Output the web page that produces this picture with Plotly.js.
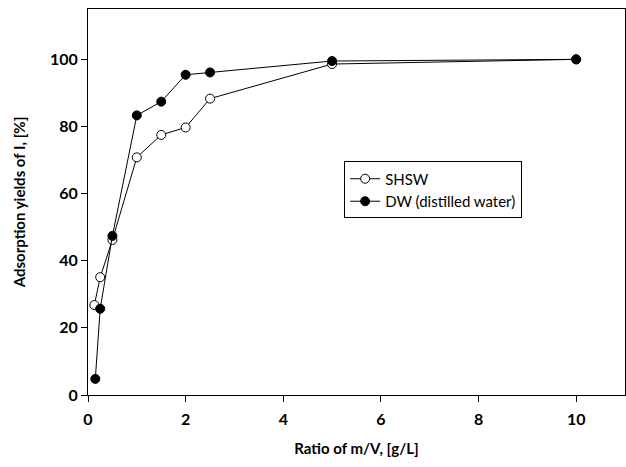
<!DOCTYPE html>
<html>
<head>
<meta charset="utf-8">
<script src="https://cdn.plot.ly/plotly-3.0.1.min.js"></script>
<style>html,body{margin:0;padding:0;background:#fff;}#chart{width:626px;height:467px;}</style>
</head>
<body>
<div id="chart"></div>
<script>
// Data
const shswX = [0.13, 0.25, 0.5, 1.0, 1.5, 2.0, 2.5, 5.0, 10.0];
const shswY = [26.8, 35.1, 46.2, 70.8, 77.5, 79.7, 88.3, 98.6, 100.0];
const dwX = [0.15, 0.25, 0.5, 1.0, 1.5, 2.0, 2.5, 5.0, 10.0];
const dwY = [4.8, 25.7, 47.4, 83.3, 87.4, 95.4, 96.1, 99.5, 100.0];
const xTicks = [0, 2, 4, 6, 8, 10];
const yTicks = [0, 20, 40, 60, 80, 100];
const seriesNames = ['SHSW', 'DW (distilled water)'];

const FONT = 'Lato, "Open Sans", "DejaVu Sans", sans-serif';

const traces = [
  {
    x: shswX, y: shswY, name: seriesNames[0], type: 'scatter', mode: 'lines+markers',
    line: {color: '#000', width: 1},
    marker: {symbol: 'circle', size: 9, color: '#fff', line: {color: '#000', width: 1}}
  },
  {
    x: dwX, y: dwY, name: seriesNames[1], type: 'scatter', mode: 'lines+markers',
    line: {color: '#000', width: 1},
    marker: {symbol: 'circle', size: 9, color: '#000', line: {color: '#000', width: 1}}
  }
];

const layout = {
  width: 626, height: 467,
  margin: {l: 88, r: 1, t: 9, b: 72},
  paper_bgcolor: '#fff', plot_bgcolor: '#fff',
  font: {family: FONT, color: '#000'},
  showlegend: true,
  legend: {
    x: 0.477, y: 0.605, xanchor: 'left', yanchor: 'top',
    bgcolor: '#fff', bordercolor: '#000', borderwidth: 1,
    font: {family: FONT, size: 15, color: '#000'},
    tracegroupgap: 0, itemwidth: 30
  },
  xaxis: {
    range: [0, 11], tickvals: xTicks, ticktext: xTicks.map(String),
    showgrid: false, zeroline: false,
    showline: true, linecolor: '#000', linewidth: 1, mirror: true,
    ticks: 'outside', ticklen: 6, tickcolor: '#000', tickwidth: 1,
    ticklabelstandoff: 4,
    tickfont: {family: FONT, size: 16, color: '#000', weight: 'bold'},
    title: {text: '<b>Ratio of m/V, [g/L]</b>', font: {family: FONT, size: 15, color: '#000'}, standoff: 16}
  },
  yaxis: {
    range: [0, 115], tickvals: yTicks, ticktext: yTicks.map(String),
    showgrid: false, zeroline: false,
    showline: true, linecolor: '#000', linewidth: 1, mirror: true,
    ticks: 'outside', ticklen: 6, tickcolor: '#000', tickwidth: 1,
    tickfont: {family: FONT, size: 16, color: '#000', weight: 'bold'},
    title: {text: '<b>Adsorption yields of I, [%]</b>', font: {family: FONT, size: 15, color: '#000'}, standoff: 20}
  }
};

Plotly.newPlot('chart', traces, layout, {displayModeBar: false, staticPlot: true});
</script>
</body>
</html>
